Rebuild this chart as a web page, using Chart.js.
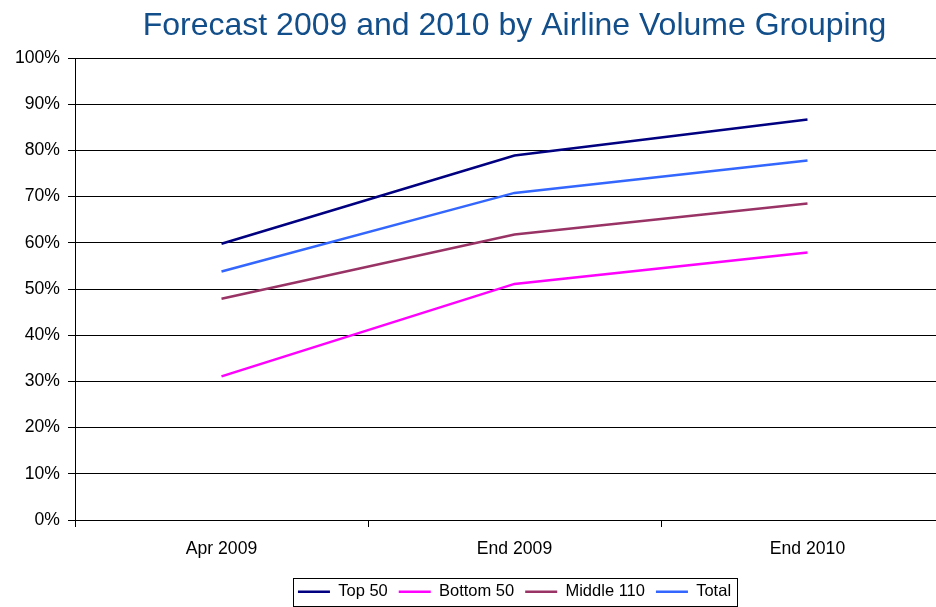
<!DOCTYPE html>
<html lang="en">

<head>
    <meta charset="UTF-8">
    <title>Forecast 2009 and 2010 by Airline Volume Grouping</title>
    <script src="https://cdn.jsdelivr.net/npm/chart.js"></script>
    <style>
        body {
            margin: 0;
            background-color: white;
            overflow: hidden;
        }

        canvas {
            display: block;
        }
    </style>
</head>

<body>
    <canvas id="chart" width="960" height="610"></canvas>

    <script>
        const periods = ["Apr 2009", "End 2009", "End 2010"];
        const top50 = [59.8, 78.9, 86.7];
        const bottom50 = [31.1, 51.1, 57.9];
        const middle110 = [47.9, 61.8, 68.5];
        const total = [53.8, 70.8, 77.8];

        const font = "Arial, 'Liberation Sans', sans-serif";

        // box drawn round the legend items
        const legendFrame = {
            id: "legendFrame",
            afterDraw(chart) {
                const boxes = chart.legend.legendHitBoxes;
                if (!boxes || !boxes.length) return;
                const first = boxes[0];
                const last = boxes[boxes.length - 1];
                const mid = first.top + first.height / 2;
                const ctx = chart.ctx;
                ctx.save();
                ctx.strokeStyle = "#000";
                ctx.lineWidth = 1;
                ctx.strokeRect(Math.round(first.left - 5) + 0.5, Math.round(mid - 14) + 0.5,
                    Math.round(last.left + last.width - first.left + 11), 28);
                ctx.restore();
            }
        };

        function series(label, data, color) {
            return {
                label: label,
                data: data,
                borderColor: color,
                backgroundColor: color,
                borderWidth: 2.5,
                pointRadius: 0,
                fill: false,
                tension: 0
            };
        }

        new Chart(document.getElementById("chart"), {
            type: "line",
            data: {
                labels: periods,
                datasets: [
                    series("Top 50", top50, "#000080"),
                    series("Bottom 50", bottom50, "#ff00ff"),
                    series("Middle 110", middle110, "#993366"),
                    series("Total", total, "#3366ff")
                ]
            },
            options: {
                responsive: false,
                animation: false,
                layout: { padding: { left: 0, right: 6, top: 0, bottom: 0 } },
                plugins: {
                    title: {
                        display: true,
                        fullSize: false,
                        text: "Forecast 2009 and 2010 by Airline Volume Grouping",
                        color: "#114e8a",
                        font: { family: font, size: 32, weight: "normal" },
                        padding: { top: 7, bottom: 12.6 }
                    },
                    legend: {
                        position: "bottom",
                        fullSize: false,
                        labels: {
                            usePointStyle: true,
                            pointStyle: "line",
                            pointStyleWidth: 32,
                            padding: 11,
                            color: "#000",
                            font: { family: font, size: 16.5 }
                        }
                    },
                    tooltip: { enabled: false }
                },
                scales: {
                    x: {
                        offset: true,
                        afterFit(s) { s.height = 52.5; },
                        grid: {
                            offset: true,
                            drawOnChartArea: false,
                            tickLength: 7,
                            color: "#000"
                        },
                        border: { color: "#000", width: 1 },
                        ticks: {
                            padding: 12,
                            color: "#000",
                            font: { family: font, size: 17.6 }
                        }
                    },
                    y: {
                        min: 0,
                        max: 100,
                        afterFit(s) { s.width = 75; },
                        grid: { color: "#000", tickLength: 7 },
                        border: { color: "#000", width: 1 },
                        ticks: {
                            stepSize: 10,
                            padding: 8,
                            color: "#000",
                            font: { family: font, size: 17.6 },
                            callback: (v) => v + "%"
                        }
                    }
                }
            },
            plugins: [legendFrame]
        });
    </script>
</body>

</html>
